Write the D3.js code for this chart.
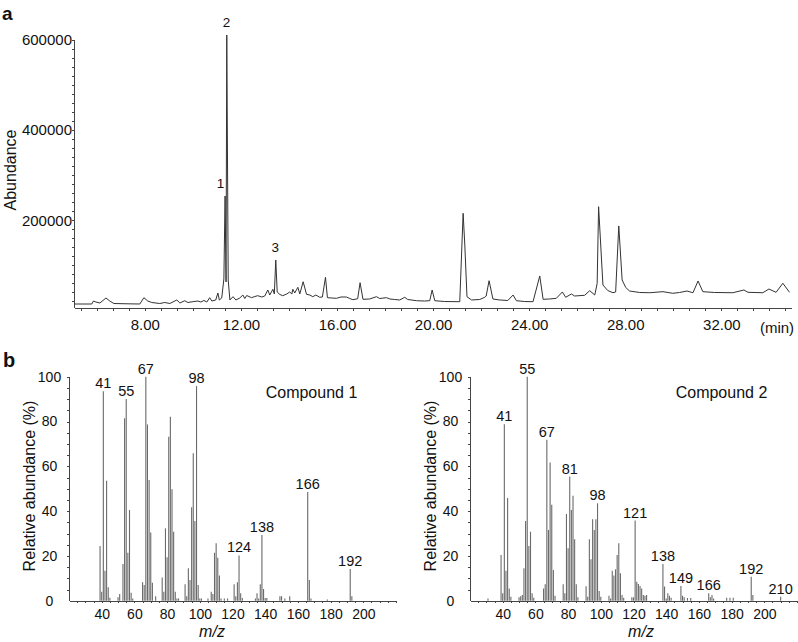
<!DOCTYPE html>
<html>
<head>
<meta charset="utf-8">
<script src="https://cdn.jsdelivr.net/npm/d3@7"></script>
<style>
  body { margin: 0; background: #fff; }
  svg text { font-family: "Liberation Sans", Arial, sans-serif; fill: #111; }
  .axis path, .axis line { stroke: #444; shape-rendering: crispEdges; }
</style>
</head>
<body>
<svg id="fig" width="798" height="642"></svg>
<script>
// ---- panel a: total ion chromatogram (time in min, abundance) ----
var chromTime = [5.05, 5.79, 5.86, 5.96, 6.13, 6.38, 6.54, 6.71, 7.30, 7.79, 7.96, 8.12, 8.29, 8.62, 8.83, 9.04,
  9.33, 9.46, 9.66, 9.79, 10.04, 10.21, 10.33, 10.46, 10.58, 10.70, 10.79, 10.95, 11.04, 11.10, 11.20, 11.29,
  11.34, 11.38, 11.41, 11.47, 11.54, 11.67, 11.79, 11.95, 12.08, 12.16, 12.24, 12.44, 12.58, 12.70, 12.87, 12.99,
  13.12, 13.20, 13.33, 13.39, 13.45, 13.51, 13.62, 13.74, 13.91, 14.03, 14.12, 14.16, 14.24, 14.37, 14.45, 14.59,
  14.73, 14.87, 14.99, 15.12, 15.28, 15.39, 15.52, 15.60, 15.78, 15.98, 16.16, 16.39, 16.53, 16.66, 16.86, 16.96,
  17.08, 17.36, 17.64, 17.78, 18.06, 18.20, 18.40, 18.61, 18.82, 18.94, 19.31, 19.65, 19.86, 19.96, 20.07, 20.48,
  21.11, 21.25, 21.32, 21.41, 21.60, 21.94, 22.15, 22.21, 22.33, 22.49, 22.77, 23.11, 23.33, 23.47, 23.81, 24.16,
  24.44, 24.58, 24.85, 25.13, 25.38, 25.52, 25.76, 25.89, 26.31, 26.52, 26.73, 26.83, 26.89, 27.07, 27.27, 27.49,
  27.60, 27.73, 27.87, 28.02, 28.18, 28.60, 29.02, 29.57, 29.98, 30.26, 30.57, 30.82, 31.03, 31.23, 31.72, 32.48,
  32.94, 33.11, 33.73, 33.98, 34.28, 34.56, 34.84];
var chromAbund = [14400, 14400, 21000, 18800, 16600, 27700, 21000, 15500, 14800, 14400, 28400, 21000, 17700, 15500, 17700, 15500,
  23300, 16600, 21700, 17700, 19900, 21000, 18800, 22200, 18800, 28400, 21000, 23300, 38800, 23300, 27700, 70000,
  253700, 63200, 610500, 67600, 23300, 30600, 23300, 27700, 34300, 26600, 33200, 28400, 31000, 32800, 29900, 32100,
  45400, 34300, 47000, 36600, 111900, 41000, 35500, 32800, 36600, 41000, 36600, 47000, 38800, 51400, 36600, 63800,
  35900, 34300, 30600, 34300, 29300, 29900, 73600, 28400, 27700, 27000, 29900, 29900, 26600, 23900, 26100, 61600,
  24800, 25500, 30600, 26600, 28400, 25500, 24400, 23300, 29300, 24400, 21700, 21000, 21700, 45400, 21700, 19900,
  19500, 215400, 145200, 30600, 23300, 24400, 29300, 32100, 66000, 25500, 23300, 22200, 34300, 21700, 19900, 19500,
  76500, 24800, 25500, 27000, 41000, 29300, 36600, 32100, 33700, 43900, 34300, 60000, 230000, 56500, 44300, 39400,
  41000, 187300, 67600, 51000, 43200, 39900, 39400, 41700, 38100, 39900, 43200, 39400, 65400, 41700, 39900, 39400,
  45400, 40300, 39400, 47600, 40300, 60300, 40300];

var timeLabels = [8, 12, 16, 20, 24, 28, 32];
var abundLabels = [200000, 400000, 600000];
var peakNames = ["1", "2", "3"];
var peakTimes = [11.15, 11.40, 13.43];
var peakAbund = [253700, 610500, 111900];

// ---- panel b: mass spectra (m/z, relative abundance %) ----
var mz1 = [39, 40, 41, 42, 43, 44, 45, 50, 51, 53, 54, 55, 56, 57, 58, 59, 65, 66, 67, 68, 69, 70, 71, 73,
  77, 78, 79, 80, 81, 82, 83, 84, 85, 86, 87, 91, 92, 93, 94, 95, 96, 97, 98, 99, 100, 101, 105, 107, 108,
  109, 110, 111, 112, 113, 115, 117, 121, 122, 123, 124, 125, 126, 134, 135, 136, 137, 138, 139, 140, 141,
  149, 150, 152, 155, 166, 167, 168, 178, 192, 193];
var rel1 = [24.4, 4, 93.5, 13.4, 53.5, 6, 1.3, 1.5, 3, 16.4, 81.5, 90, 21.4, 40.5, 3.5, 1, 8.2, 7, 100, 78.7, 53.9, 30.4, 8, 2,
  10.4, 4, 32.3, 19.4, 73.2, 82.1, 49.7, 30.8, 4, 1, 1, 7.3, 2, 14.5, 9.2, 41.7, 65.8, 35.6, 95.8, 7, 1, 1, 1, 4, 3,
  21.4, 25.6, 19.2, 11.2, 1, 1, 1, 7.3, 2, 8.2, 20.2, 3.3, 1.2, 1, 3.3, 1, 7.3, 29.3, 5.2, 1.2, 1.2,
  2, 2, 1, 2, 48.5, 9.2, 1, 0.5, 14.2, 2];
var labels1 = [41, 55, 67, 98, 124, 138, 166, 192];

var mz2 = [31, 39, 40, 41, 42, 43, 44, 45, 50, 51, 52, 53, 54, 55, 56, 57, 58, 59, 65, 66, 67, 68, 69, 70, 71, 72,
  77, 78, 79, 80, 81, 82, 83, 84, 85, 86, 91, 92, 93, 94, 95, 96, 97, 98, 99, 100, 105, 106, 107, 108, 109, 110,
  111, 112, 113, 114, 119, 120, 121, 122, 123, 124, 125, 126, 127, 128, 138, 139, 140, 141, 142, 143,
  149, 150, 151, 153, 155, 166, 167, 168, 169, 177, 179, 181, 192, 193, 210];
var rel2 = [1, 20.4, 3.3, 78.8, 13.4, 45.8, 5.5, 1.8, 1.5, 2, 2.5, 14.5, 35.6, 100, 24.4, 30.8, 3.3, 1.3, 5.5, 7.3, 71.8, 31.6, 61.7, 42.8, 13.7, 2.2,
  7.3, 3.3, 38.7, 23.4, 55.4, 40.5, 46.8, 27.4, 7.3, 1.5, 6.5, 1.8, 27.4, 18.5, 36.4, 31.6, 36.4, 43.5, 4.3, 1.8, 2.2, 1, 13.4, 11.2, 14, 20.4,
  25.6, 12.2, 2.5, 1.3, 1.5, 1.5, 35.8, 8.5, 7.5, 6.6, 5.5, 2.5, 2.2, 2.5, 16.4, 6.3, 1, 3.3, 2.2, 1.3,
  6.6, 2.2, 1.5, 1.2, 1.2, 3.3, 1.5, 2.5, 1, 1.3, 1.3, 1.3, 10.7, 2.5, 1.8];
var labels2 = [41, 55, 67, 81, 98, 121, 138, 149, 166, 192, 210];

var mzLabels = [40, 60, 80, 100, 120, 140, 160, 180, 200];
var relLabels = [0, 20, 40, 60, 80, 100];

var svg = d3.select("#fig");

// panel letters
svg.append("text").attr("x", 2).attr("y", 20).style("font-weight", "bold").style("font-size", "19px").text("a");
svg.append("text").attr("x", 3).attr("y", 367).style("font-weight", "bold").style("font-size", "20px").text("b");

// ---------- chromatogram ----------
var x = d3.scaleLinear().domain([5.05, 34.9]).range([74, 791]);
var y = d3.scaleLinear().domain([0, 600000]).range([310.5, 39.75]);

// minor ticks every 40 s, then labelled ones
svg.append("g").attr("class", "axis")
    .attr("transform", "translate(0,308)")
    .call(d3.axisBottom(x).tickValues(d3.range(16, 105, 2).map(function(d) { return d / 3; }))
      .tickSize(3).tickSizeOuter(0).tickFormat(""));
var xa = svg.append("g").attr("class", "axis")
    .attr("transform", "translate(0,308)")
    .call(d3.axisBottom(x).tickValues(timeLabels).tickSize(0).tickPadding(11)
      .tickFormat(function(d) { return d.toFixed(2); }));
xa.select(".domain").remove();
xa.selectAll("text").style("font-size", "15px");
svg.append("text").attr("x", 777).attr("y", 333).attr("text-anchor", "middle")
    .style("font-size", "15px").text("(min)");

svg.append("g").attr("class", "axis")
    .attr("transform", "translate(74,0)")
    .call(d3.axisLeft(y).tickValues(d3.range(20000, 600001, 20000)).tickSize(2).tickSizeOuter(0).tickFormat(""))
    .select(".domain").attr("d", "M0," + 308 + "V" + y(600000));
var ya = svg.append("g").attr("class", "axis")
    .attr("transform", "translate(74,0)")
    .call(d3.axisLeft(y).tickValues(abundLabels).tickSize(0).tickPadding(2).tickFormat(d3.format("d")));
ya.select(".domain").remove();
ya.selectAll("text").style("font-size", "15px");

svg.append("text")
    .attr("transform", "translate(15.5,170) rotate(-90)")
    .attr("text-anchor", "middle").style("font-size", "16px").text("Abundance");

var line = d3.line()
    .x(function(d) { return x(chromTime[d]); })
    .y(function(d) { return y(chromAbund[d]); });
svg.append("path")
    .datum(d3.range(chromTime.length))
    .attr("d", line)
    .attr("fill", "none")
    .attr("stroke", "#333")
    .attr("stroke-width", 1);

svg.selectAll(".peakname")
    .data(peakNames)
    .enter().append("text")
    .attr("class", "peakname")
    .attr("x", function(d, i) { return x(peakTimes[i]); })
    .attr("y", function(d, i) { return y(peakAbund[i]) - 8; })
    .attr("text-anchor", "middle")
    .style("font-size", "13.5px")
    .text(function(d) { return d; });

// ---------- mass spectra ----------
function spectrum(x0, x1, mz, rel, labels, title, titleX, mzX) {
  var xs = d3.scaleLinear().domain([20, 220]).range([x0, x1]);
  var ys = d3.scaleLinear().domain([0, 100]).range([600.7, 376.7]);

  svg.append("g").attr("class", "axis")
      .attr("transform", "translate(0,600.7)")
      .call(d3.axisBottom(xs).tickValues(d3.range(25, 221, 5)).tickSize(2).tickSizeOuter(0).tickFormat(""));
  var xa = svg.append("g").attr("class", "axis")
      .attr("transform", "translate(0,600.7)")
      .call(d3.axisBottom(xs).tickValues(mzLabels).tickSize(0).tickPadding(8));
  xa.select(".domain").remove();
  xa.selectAll("text").style("font-size", "14px");

  svg.append("g").attr("class", "axis")
      .attr("transform", "translate(" + x0 + ",0)")
      .call(d3.axisLeft(ys).tickValues(d3.range(5, 101, 5)).tickSize(2).tickSizeOuter(0).tickFormat(""));
  var ya = svg.append("g").attr("class", "axis")
      .attr("transform", "translate(" + x0 + ",0)")
      .call(d3.axisLeft(ys).tickValues(relLabels).tickSize(0));
  ya.select(".domain").remove();
  ya.selectAll("text").attr("x", -19.5).attr("text-anchor", "middle").style("font-size", "14px");

  svg.append("g")
      .selectAll("line")
      .data(mz)
      .enter().append("line")
      .attr("x1", function(d) { return xs(d); })
      .attr("x2", function(d) { return xs(d); })
      .attr("y1", ys(0))
      .attr("y2", function(d, i) { return ys(rel[i]); })
      .attr("stroke", "#6a6a6a")
      .attr("stroke-width", 1.1);

  svg.append("g")
      .selectAll("text")
      .data(labels)
      .enter().append("text")
      .attr("x", function(d) { return xs(d); })
      .attr("y", function(d) { return ys(rel[mz.indexOf(d)]) - 3; })
      .attr("text-anchor", "middle")
      .style("font-size", "14.5px")
      .text(function(d) { return d; });

  svg.append("text")
      .attr("transform", "translate(" + (x0 - 34) + ",486) rotate(-90)")
      .attr("text-anchor", "middle").style("font-size", "16px").text("Relative abundance (%)");
  svg.append("text").attr("x", mzX).attr("y", 637).attr("text-anchor", "middle")
      .style("font-size", "16px").style("font-style", "italic").text("m/z");
  svg.append("text").attr("x", titleX).attr("y", 398).attr("text-anchor", "middle")
      .style("font-size", "16px").text(title);
}

spectrum(69, 396, mz1, rel1, labels1, "Compound 1", 311.5, 212);
spectrum(470, 797, mz2, rel2, labels2, "Compound 2", 721.5, 641);
</script>
</body>
</html>
